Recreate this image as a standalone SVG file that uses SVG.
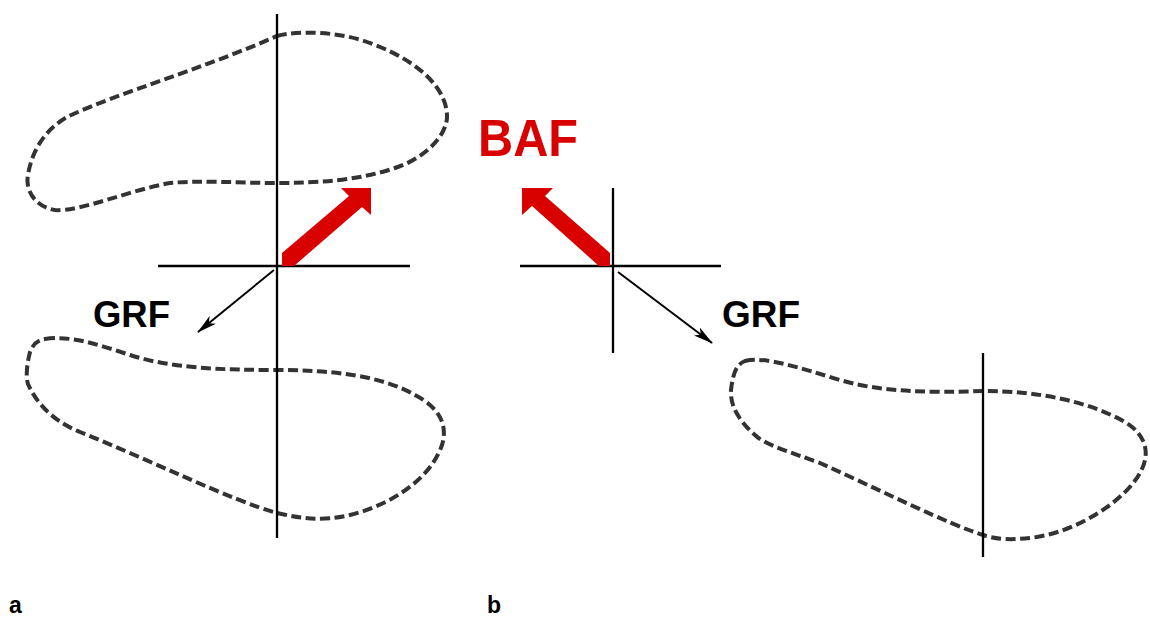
<svg xmlns="http://www.w3.org/2000/svg" width="1150" height="617" viewBox="0 0 1150 617">
<defs>
<style>
.foot{fill:none;stroke:#333;stroke-width:4;stroke-dasharray:10 4.5;stroke-linecap:butt;}
.ax{stroke:#000;stroke-width:2.3;fill:none;}
.grf{stroke:#000;stroke-width:2;fill:none;}
.lbl{font-family:"Liberation Sans",Arial,sans-serif;font-weight:bold;}
.red{fill:#d90000;}
</style>
<marker id="ah" markerWidth="20" markerHeight="10" refX="19" refY="5" orient="auto" markerUnits="userSpaceOnUse">
<path d="M0,0 L20,5 L0,10 L5,5 Z" fill="#000"/>
</marker>
</defs>
<rect width="1150" height="617" fill="#fff"/>
<g id="foot-a-top">
<path class="foot" d="M277,36 C295,31 340,30 375,45 C420,62 448,90 447,118 C445,140 420,160 395,168 C360,180 320,183 277,183 C240,183 200,180 170,183 C130,190 80,212 55,210 C35,207 25,190 28,175 C32,150 45,130 67,117 C120,92 200,70 277,36 Z"/>
<line class="ax" x1="277" y1="14" x2="277" y2="183"/>
</g>
<g id="foot-a-bottom">
<path class="foot" d="M45,339 C70,335 100,345 130,355 C170,368 220,370 277,370 C330,370 380,375 415,395 C440,408 448,425 442,445 C430,480 390,505 350,515 C320,522 300,518 277,513 C230,500 150,460 80,432 C50,420 35,400 28,384 C25,375 28,360 30,352 C33,344 38,340 45,339 Z"/>
<line class="ax" x1="277" y1="183" x2="277" y2="538"/>
<line class="ax" x1="158" y1="266" x2="410" y2="266"/>
</g>
<g id="foot-b">
<path class="foot" d="M745,361 C765,356 800,368 840,380 C880,392 930,393 983,391 C1040,391 1090,402 1125,422 C1148,436 1150,455 1140,473 C1125,500 1080,530 1037,537 C1010,541 995,539 983,535 C950,525 880,490 820,463 C790,452 765,445 755,435 C738,420 730,405 731,390 C733,372 737,364 745,361 Z"/>
<line class="ax" x1="983" y1="353" x2="983" y2="557"/>
</g>
<g id="cross-b">
<line class="ax" x1="613" y1="188" x2="613" y2="353"/>
<line class="ax" x1="520" y1="266" x2="721" y2="266"/>
</g>
<g id="connectors">
<line class="grf" x1="274" y1="270" x2="198" y2="332" marker-end="url(#ah)"/>
<line class="grf" x1="618" y1="272" x2="712" y2="343" marker-end="url(#ah)"/>
<polygon class="red" points="282,266 282,253 349,196 341,188 371,188 371,215 362,207 294,266"/>
<polygon class="red" points="610,266 610,253 545,196 553,188 522,188 522,215 532,206 599,266"/>
</g>
<g id="labels">
<text class="lbl" x="478" y="156" font-size="51" fill="#d90000" textLength="100" lengthAdjust="spacingAndGlyphs">BAF</text>
<text class="lbl" x="93" y="327" font-size="37" fill="#000" textLength="77" lengthAdjust="spacingAndGlyphs">GRF</text>
<text class="lbl" x="722" y="327" font-size="37" fill="#000" textLength="78" lengthAdjust="spacingAndGlyphs">GRF</text>
<text class="lbl" x="9" y="613" font-size="23" fill="#000">a</text>
<text class="lbl" x="487" y="613" font-size="23" fill="#000">b</text>
</g>
</svg>
